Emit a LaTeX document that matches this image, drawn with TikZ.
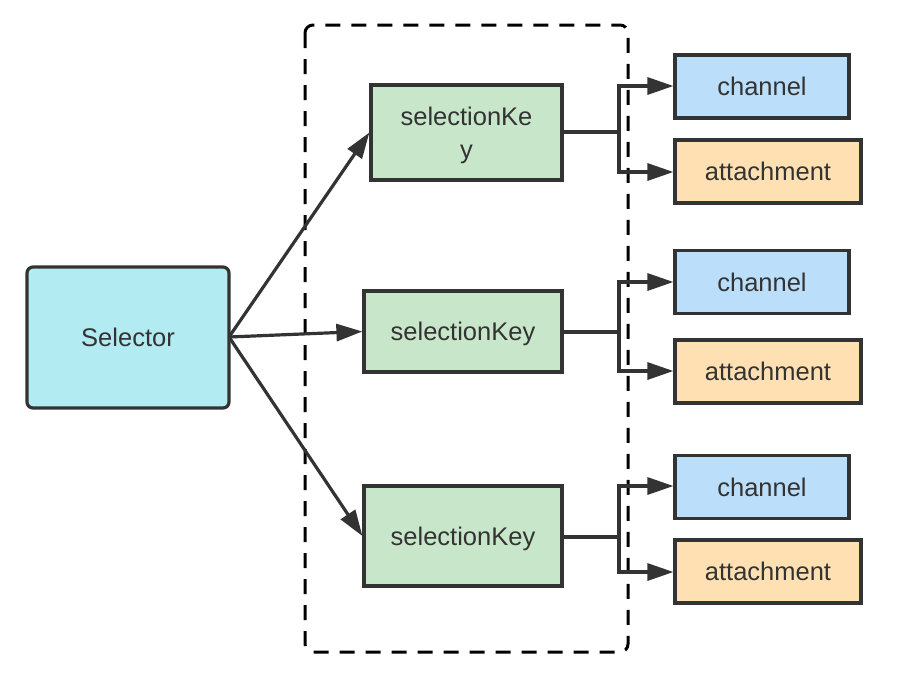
\documentclass[tikz,border=0pt]{standalone}
\usepackage{fontspec}
\setmainfont{Liberation Sans}
\usetikzlibrary{arrows.meta}
\definecolor{stroke}{HTML}{333333}
\definecolor{selfill}{HTML}{B2EBF2}
\definecolor{keyfill}{HTML}{C8E6C9}
\definecolor{chfill}{HTML}{BBDEFB}
\definecolor{atfill}{HTML}{FFE0B2}
\begin{document}
\begin{tikzpicture}[x=1pt,y=-1pt,
  box/.style={draw=stroke,line width=3.2pt,inner sep=0pt,text=stroke,font=\fontsize{25.5}{33}\selectfont,align=center,text depth=0pt},
  arr/.style={draw=stroke,line width=3.2pt,-{Triangle[length=26pt,width=17pt]}},
  ln/.style={draw=stroke,line width=3.2pt}]
\useasboundingbox (0,0) rectangle (904,678);
\draw[stroke,line width=3pt,dash pattern=on 15pt off 11pt,rounded corners=8pt] (305,25) rectangle (628,652);
\node[box,fill=selfill,rounded corners=6pt,minimum width=202pt,minimum height=141pt] (sel) at (128,337.5) {Selector};
\node[box,fill=keyfill,minimum width=191pt,minimum height=95pt] (k1) at (466.5,132.5) {selectionKe\\y};
\node[box,fill=keyfill,minimum width=198pt,minimum height=81pt] (k2) at (463,331.5) {selectionKey};
\node[box,fill=keyfill,minimum width=198pt,minimum height=100pt] (k3) at (463,536) {selectionKey};
\foreach \i/\cy/\ay in {1/86.5/171.5,2/282/371.5,3/487/571.5}{
  \node[box,fill=chfill,minimum width=174pt,minimum height=63pt] (c\i) at (762,\cy) {channel};
  \node[box,fill=atfill,minimum width=186pt,minimum height=63pt] (a\i) at (768,\ay) {attachment};
}
\coordinate (s0) at (229,337);
\draw[arr] (s0) -- (k1.west);
\draw[arr] (s0) -- (k2.west);
\draw[arr] (s0) -- (k3.west);
\foreach \i/\ky/\cy/\ay in {1/132/86/172,2/332/282/371,3/537/486/572}{
  \coordinate (b\i) at (619,\ky);
  \coordinate (bc\i) at (619,\cy);
  \coordinate (ba\i) at (619,\ay);
  \draw[ln] (k\i.east |- b\i) -- (b\i);
  \draw[ln] (bc\i) -- (ba\i);
  \draw[arr] ([xshift=-1.6pt]bc\i) -- (c\i.west |- bc\i);
  \draw[arr] ([xshift=-1.6pt]ba\i) -- (a\i.west |- ba\i);
}
\end{tikzpicture}
\end{document}
